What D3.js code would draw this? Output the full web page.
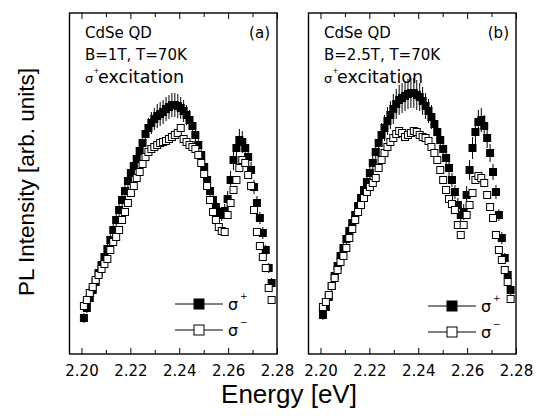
<!DOCTYPE html>
<html>
<head>
<meta charset="utf-8">
<script src="https://cdn.jsdelivr.net/npm/d3@7/dist/d3.min.js"></script>
<style>
  html, body { margin: 0; padding: 0; background: #fff; }
  svg text { fill: #000; }
</style>
</head>
<body>
<svg id="chart" width="539" height="416"></svg>
<script>
// ---- data (energy in eV, intensity in arbitrary units) ----
const energy = [2.2010, 2.2022, 2.2034, 2.2046, 2.2058, 2.2070, 2.2082, 2.2094, 2.2106, 2.2118,
  2.2130, 2.2142, 2.2154, 2.2166, 2.2178, 2.2190, 2.2202, 2.2214, 2.2226, 2.2238,
  2.2250, 2.2262, 2.2274, 2.2286, 2.2298, 2.2310, 2.2322, 2.2334, 2.2346, 2.2358,
  2.2370, 2.2382, 2.2394, 2.2406, 2.2418, 2.2430, 2.2442, 2.2454, 2.2466, 2.2478,
  2.2490, 2.2502, 2.2514, 2.2526, 2.2538, 2.2550, 2.2562, 2.2574, 2.2586, 2.2598,
  2.2610, 2.2622, 2.2634, 2.2646, 2.2658, 2.2670, 2.2682, 2.2694, 2.2706, 2.2718,
  2.2730, 2.2742, 2.2754, 2.2766, 2.2778];

// panel (a): B = 1 T
const plusA = [36,46,56,64,72,81,89,97,105,114, 124,134,144,154,163,173,181,188,195,203,
  211,220,226,231,235,238,240,242,245,247, 249,249,248,246,243,239,234,228,219,209,
  199,187,174,163,154,147,142,139,143,155, 174,194,206,214,212,206,197,184,167,151,
  136,121,104,86,71];
const errA = [5,5,5,5,5,5,5,5,5,6, 6,6,6,6,7,7,7,8,8,9,
  9,10,10,11,11,12,12,12,12,12, 12,12,12,11,11,10,10,9,9,8,
  8,7,7,6,6,6,6,6,7,8, 9,10,11,11,11,10,9,8,7,7,
  6,6,5,5,5];
const minusA = [48,54,61,67,74,79,85,90,95,104, 112,117,124,134,142,151,161,168,176,182,
  190,197,202,205,207,209,211,212,213,215, 217,219,221,226,215,212,209,207,205,199,
  191,180,168,154,142,134,127,123,122,139, 151,164,174,186,194,191,179,168,144,122,
  108,97,86,66,54];

// panel (b): B = 2.5 T
const plusB = [39,47,57,68,78,88,98,106,115,123, 131,139,148,156,164,172,181,191,202,211,
  219,226,233,239,245,250,254,256,258,260, 261,261,259,257,253,248,243,237,230,222,
  214,205,196,186,174,162,149,139,142,159, 184,206,222,232,234,228,216,201,182,162,
  139,116,96,79,64];
const errB = [5,5,5,5,5,5,5,6,6,6, 6,7,7,7,8,8,9,10,11,12,
  12,13,14,14,15,15,15,15,15,15, 15,15,15,14,14,13,12,12,11,10,
  9,9,8,8,7,7,7,7,8,9, 10,11,12,12,12,11,10,9,8,7,
  6,6,5,5,5];
const minusB = [47,52,59,68,76,84,92,98,106,116, 125,134,142,149,156,162,167,171,176,186,
  194,201,207,212,216,220,223,221,217,219, 221,223,222,219,217,216,213,207,201,194,
  184,174,164,155,150,144,129,119,129,139, 149,161,174,178,176,171,159,147,136,119,
  104,94,84,72,55];

const xTicks = [2.20, 2.22, 2.24, 2.26, 2.28];
const xMinorTicks = [2.21, 2.23, 2.25, 2.27];
const panelLabels = ["(a)", "(b)"];
const fieldLabels = ["B=1T, T=70K", "B=2.5T, T=70K"];
const sampleLabel = "CdSe QD";
const excitationLabel = "excitation";
const legendLabels = ["+", "\u2212"];

// ---- layout ----
const svg = d3.select("#chart");
const SANS = "'DejaVu Sans', Verdana, sans-serif";
const ARIAL = "'Liberation Sans', Arial, Helvetica, sans-serif";
const plotTop = 13, plotBottom = 354, pw = 207.5;
const panels = [
  { left: 69.5, plus: plusA, err: errA, minus: minusA, label: panelLabels[0], field: fieldLabels[0],
    legX: 105.5, legY: 304 },
  { left: 308.5, plus: plusB, err: errB, minus: minusB, label: panelLabels[1], field: fieldLabels[1],
    legX: 119.5, legY: 306 }
];

const x = d3.scaleLinear().domain([2.1951, 2.28]).range([0, pw]);
const y = d3.scaleLinear().domain([0, 341]).range([plotBottom, plotTop]);
const sq = 8;

panels.forEach((p) => {
  const g = svg.append("g").attr("transform", `translate(${p.left},0)`);

  const plusData = energy.map((e, i) => ({ e, v: p.plus[i], err: p.err[i] || 0 })).filter(d => d.v != null);
  const minusData = energy.map((e, i) => ({ e, v: p.minus[i] })).filter(d => d.v != null);

  // sigma+ error bars
  g.append("g").selectAll("line").data(plusData).join("line")
    .attr("x1", d => x(d.e)).attr("x2", d => x(d.e))
    .attr("y1", d => y(d.v + d.err)).attr("y2", d => y(d.v - d.err))
    .attr("stroke", "#000").attr("stroke-width", 1);
  // sigma+ filled squares
  g.append("g").selectAll("rect").data(plusData).join("rect")
    .attr("x", d => x(d.e) - sq / 2).attr("y", d => y(d.v) - sq / 2)
    .attr("width", sq).attr("height", sq)
    .attr("fill", "#000");
  // sigma- open squares
  g.append("g").selectAll("rect").data(minusData).join("rect")
    .attr("x", d => x(d.e) - sq / 2 + 0.5).attr("y", d => y(d.v) - sq / 2 + 0.5)
    .attr("width", sq - 1).attr("height", sq - 1)
    .attr("fill", "#fff").attr("stroke", "#000").attr("stroke-width", 1);

  // axes (ticks inside, bottom and top)
  const axB = d3.axisBottom(x).tickValues(xTicks).tickSizeInner(-6).tickSizeOuter(0)
    .tickFormat(d3.format(".2f")).tickPadding(11);
  const gb = g.append("g").attr("transform", `translate(0,${plotBottom})`).call(axB);
  gb.select(".domain").remove();
  gb.selectAll("text").attr("font-size", 15).attr("font-family", SANS).attr("dy", "0.71em");
  g.append("g").attr("transform", `translate(0,${plotBottom})`)
    .call(d3.axisBottom(x).tickValues(xMinorTicks).tickSizeInner(-4).tickSizeOuter(0).tickFormat(""))
    .select(".domain").remove();
  g.append("g").attr("transform", `translate(0,${plotTop})`)
    .call(d3.axisTop(x).tickValues(xTicks).tickSizeInner(-6).tickSizeOuter(0).tickFormat(""))
    .select(".domain").remove();
  g.append("g").attr("transform", `translate(0,${plotTop})`)
    .call(d3.axisTop(x).tickValues(xMinorTicks).tickSizeInner(-4).tickSizeOuter(0).tickFormat(""))
    .select(".domain").remove();
  g.selectAll(".tick line").attr("stroke", "#000").attr("stroke-width", 1);

  // frame
  g.append("rect").attr("x", 0).attr("y", plotTop).attr("width", pw).attr("height", plotBottom - plotTop)
    .attr("fill", "none").attr("stroke", "#000").attr("stroke-width", 1.4);

  // annotations
  g.append("text").attr("x", 15.5).attr("y", 38).attr("font-size", 15).attr("font-family", SANS).text(sampleLabel);
  g.append("text").attr("x", 15.5).attr("y", 60).attr("font-size", 15).attr("font-family", SANS).text(p.field);
  g.append("text").attr("x", 15.5).attr("y", 83).attr("font-size", 13).attr("font-family", SANS).text("\u03c3");
  g.append("text").attr("x", 24).attr("y", 73).attr("font-size", 7).attr("font-family", SANS).text("+");
  g.append("text").attr("x", 28.5).attr("y", 83).attr("font-size", 17.5).attr("font-family", SANS).text(excitationLabel);
  g.append("text").attr("x", pw - 7).attr("y", 38).attr("text-anchor", "end").attr("font-size", 15)
    .attr("font-family", SANS).text(p.label);

  // legend
  [0, 1].forEach((k) => {
    const ly = p.legY + k * 26;
    g.append("line").attr("x1", p.legX).attr("x2", p.legX + 48).attr("y1", ly).attr("y2", ly)
      .attr("stroke", "#000").attr("stroke-width", 1);
    g.append("rect").attr("x", p.legX + 24 - 5).attr("y", ly - 5).attr("width", 10).attr("height", 10)
      .attr("fill", k === 0 ? "#000" : "#fff").attr("stroke", "#000").attr("stroke-width", 1);
    g.append("text").attr("x", p.legX + 53).attr("y", ly + 6).attr("font-size", 16)
      .attr("font-family", SANS).text("\u03c3");
    g.append("text").attr("x", p.legX + 65).attr("y", ly - 5).attr("font-size", 9)
      .attr("font-family", SANS).text(legendLabels[k]);
  });
});

// axis titles
svg.append("text").attr("x", 289).attr("y", 403).attr("text-anchor", "middle")
  .attr("font-family", ARIAL).attr("font-size", 26).text("Energy [eV]");
svg.append("text").attr("transform", "translate(34,182) rotate(-90)").attr("text-anchor", "middle")
  .attr("font-family", ARIAL).attr("font-size", 22.5).text("PL Intensity [arb. units]");
</script>
</body>
</html>
